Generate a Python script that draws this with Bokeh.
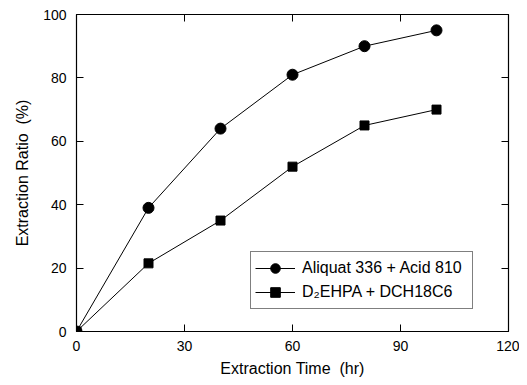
from bokeh.plotting import figure
from bokeh.models import LinearAxis, FixedTicker, Range1d, Legend, LegendItem
from bokeh.embed import file_html
from bokeh.resources import INLINE

time_hr = [0, 20, 40, 60, 80, 100]
aliquat = [0, 39, 64, 81, 90, 95]
d2ehpa = [0, 21.5, 35, 52, 65, 70]
x_ticks = [0, 30, 60, 90, 120]
y_ticks = [0, 20, 40, 60, 80, 100]

FONT = "Liberation Sans"

p = figure(width=519, height=377, output_backend="svg", toolbar_location=None,
           x_range=Range1d(0, 120), y_range=Range1d(0, 100),
           frame_width=432, frame_height=317,
           min_border_left=76, min_border_right=11, min_border_top=14, min_border_bottom=46)
p.grid.visible = False
p.outline_line_color = "black"
p.outline_line_width = 1.2
p.background_fill_color = "white"
p.border_fill_color = "white"

def style_axis(ax, labels=True):
    ax.axis_line_color = None
    ax.major_tick_in = 7
    ax.major_tick_out = 0
    ax.minor_tick_line_color = None
    ax.major_tick_line_color = "black"
    ax.major_label_text_font = FONT
    ax.major_label_text_font_size = "14px"
    ax.major_label_text_color = "black"
    ax.axis_label_text_font = FONT
    ax.axis_label_text_font_size = "16px"
    ax.axis_label_text_font_style = "normal"
    ax.axis_label_text_color = "black"
    if not labels:
        ax.major_label_text_color = None

p.xaxis.ticker = FixedTicker(ticks=x_ticks)
p.yaxis.ticker = FixedTicker(ticks=y_ticks)
p.xaxis.axis_label = "Extraction Time\u00a0 (hr)"
p.yaxis.axis_label = "Extraction Ratio\u00a0 (%)"
p.xaxis.axis_label_standoff = 6
p.yaxis.axis_label_standoff = 9
p.xaxis.major_label_standoff = 9
p.yaxis.major_label_standoff = 10
style_axis(p.xaxis[0])
style_axis(p.yaxis[0])

top = LinearAxis(ticker=FixedTicker(ticks=x_ticks))
right = LinearAxis(ticker=FixedTicker(ticks=y_ticks))
style_axis(top, labels=False)
style_axis(right, labels=False)
p.add_layout(top, "above")
p.add_layout(right, "right")

l1 = p.line(time_hr, aliquat, line_color="black", line_width=1)
s1 = p.scatter(time_hr, aliquat, marker="circle", size=11, fill_color="black", line_color="black")
l2 = p.line(time_hr, d2ehpa, line_color="black", line_width=1)
s2 = p.scatter(time_hr, d2ehpa, marker="square", size=9, fill_color="black", line_color="black")

legend = Legend(items=[
    LegendItem(label="Aliquat 336 + Acid 810", renderers=[l1, s1]),
    LegendItem(label="D\u2082EHPA + DCH18C6", renderers=[l2, s2]),
], location=(174, 22))
legend.label_text_font = FONT
legend.label_text_font_size = "16px"
legend.label_text_color = "black"
legend.glyph_width = 40
legend.glyph_height = 24
legend.label_height = 18
legend.label_width = 166
legend.spacing = 0
legend.padding = 4
legend.margin = 0
legend.label_standoff = 7
legend.border_line_color = "black"
legend.border_line_width = 1
legend.background_fill_alpha = 1
p.add_layout(legend, "center")

open("out.html", "w").write(file_html(p, INLINE))
